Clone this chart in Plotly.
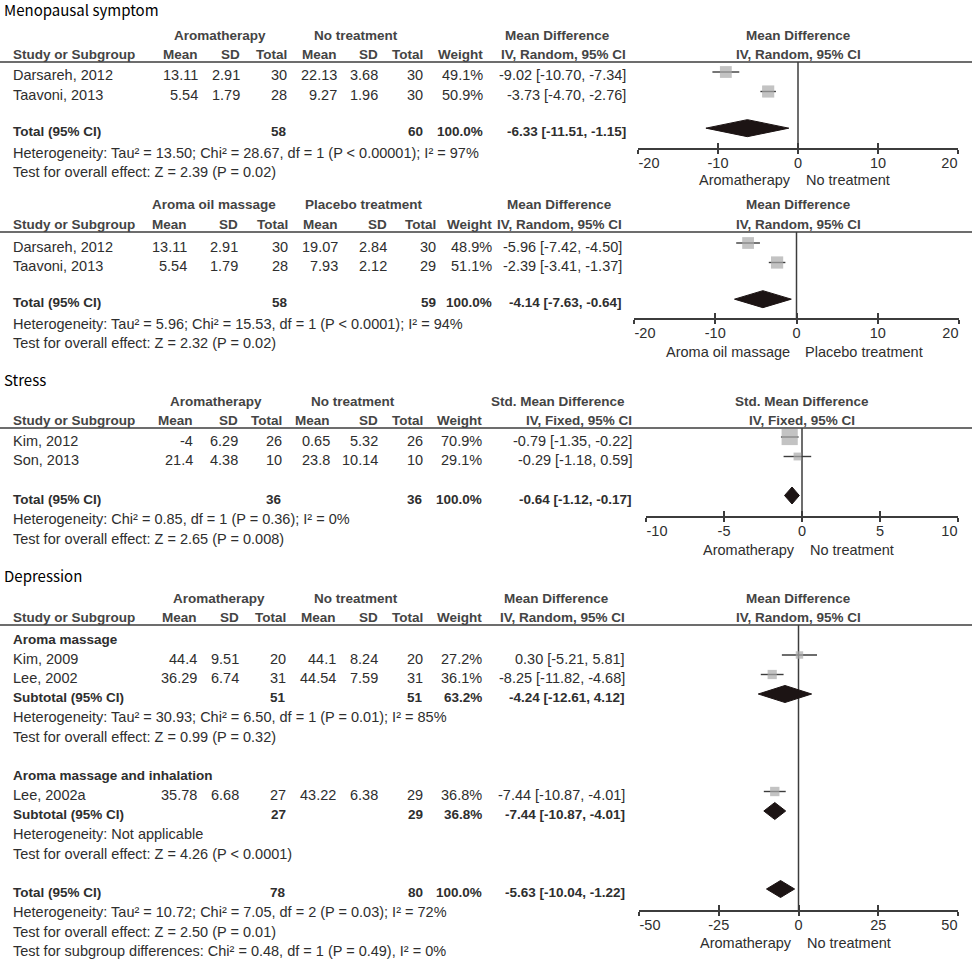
import plotly.graph_objects as go

# ======================= DATA =======================
# --- Menopausal symptom: Aromatherapy vs No treatment ---
meno_study = ["Darsareh, 2012", "Taavoni, 2013"]
meno_exp_mean = [13.11, 5.54]
meno_exp_sd = [2.91, 1.79]
meno_exp_n = [30, 28]
meno_ctl_mean = [22.13, 9.27]
meno_ctl_sd = [3.68, 1.96]
meno_ctl_n = [30, 30]
meno_weight = [49.1, 50.9]
meno_est = [-9.02, -3.73]
meno_lo = [-10.70, -4.70]
meno_hi = [-7.34, -2.76]
meno_total_n = [58, 60]
meno_total_ci = [-6.33, -11.51, -1.15]
meno_het = "Heterogeneity: Tau² = 13.50; Chi² = 28.67, df = 1 (P &lt; 0.00001); I² = 97%"
meno_test = "Test for overall effect: Z = 2.39 (P = 0.02)"

# --- Menopausal symptom: Aroma oil massage vs Placebo treatment ---
mass_study = ["Darsareh, 2012", "Taavoni, 2013"]
mass_exp_mean = [13.11, 5.54]
mass_exp_sd = [2.91, 1.79]
mass_exp_n = [30, 28]
mass_ctl_mean = [19.07, 7.93]
mass_ctl_sd = [2.84, 2.12]
mass_ctl_n = [30, 29]
mass_weight = [48.9, 51.1]
mass_est = [-5.96, -2.39]
mass_lo = [-7.42, -3.41]
mass_hi = [-4.50, -1.37]
mass_total_n = [58, 59]
mass_total_ci = [-4.14, -7.63, -0.64]
mass_het = "Heterogeneity: Tau² = 5.96; Chi² = 15.53, df = 1 (P &lt; 0.0001); I² = 94%"
mass_test = "Test for overall effect: Z = 2.32 (P = 0.02)"

# --- Stress: Aromatherapy vs No treatment (SMD) ---
str_study = ["Kim, 2012", "Son, 2013"]
str_exp_mean = [-4, 21.4]
str_exp_sd = [6.29, 4.38]
str_exp_n = [26, 10]
str_ctl_mean = [0.65, 23.8]
str_ctl_sd = [5.32, 10.14]
str_ctl_n = [26, 10]
str_weight = [70.9, 29.1]
str_est = [-0.79, -0.29]
str_lo = [-1.35, -1.18]
str_hi = [-0.22, 0.59]
str_total_n = [36, 36]
str_total_ci = [-0.64, -1.12, -0.17]
str_het = "Heterogeneity: Chi² = 0.85, df = 1 (P = 0.36); I² = 0%"
str_test = "Test for overall effect: Z = 2.65 (P = 0.008)"

# --- Depression: Aromatherapy vs No treatment ---
depA_title = "Aroma massage"
depA_study = ["Kim, 2009", "Lee, 2002"]
depA_exp_mean = [44.4, 36.29]
depA_exp_sd = [9.51, 6.74]
depA_exp_n = [20, 31]
depA_ctl_mean = [44.1, 44.54]
depA_ctl_sd = [8.24, 7.59]
depA_ctl_n = [20, 31]
depA_weight = [27.2, 36.1]
depA_est = [0.30, -8.25]
depA_lo = [-5.21, -11.82]
depA_hi = [5.81, -4.68]
depA_sub_n = [51, 51]
depA_sub_weight = 63.2
depA_sub_ci = [-4.24, -12.61, 4.12]
depA_het = "Heterogeneity: Tau² = 30.93; Chi² = 6.50, df = 1 (P = 0.01); I² = 85%"
depA_test = "Test for overall effect: Z = 0.99 (P = 0.32)"

depB_title = "Aroma massage and inhalation"
depB_study = ["Lee, 2002a"]
depB_exp_mean = [35.78]
depB_exp_sd = [6.68]
depB_exp_n = [27]
depB_ctl_mean = [43.22]
depB_ctl_sd = [6.38]
depB_ctl_n = [29]
depB_weight = [36.8]
depB_est = [-7.44]
depB_lo = [-10.87]
depB_hi = [-4.01]
depB_sub_n = [27, 29]
depB_sub_weight = 36.8
depB_sub_ci = [-7.44, -10.87, -4.01]
depB_het = "Heterogeneity: Not applicable"
depB_test = "Test for overall effect: Z = 4.26 (P &lt; 0.0001)"

dep_total_n = [78, 80]
dep_total_ci = [-5.63, -10.04, -1.22]
dep_het = "Heterogeneity: Tau² = 10.72; Chi² = 7.05, df = 2 (P = 0.03); I² = 72%"
dep_test = "Test for overall effect: Z = 2.50 (P = 0.01)"
dep_subgroup = "Test for subgroup differences: Chi² = 0.48, df = 1 (P = 0.49), I² = 0%"

# ======================= STYLE / LAYOUT =======================
W, H = 972, 960
R = 19.5          # row height in px
TXT_DY = 3.5      # text sits slightly below the marker centre
TABLE_FONT = "Liberation Sans, Arial, sans-serif"
TITLE_FONT = "Noto Sans CJK KR, Noto Sans, sans-serif"
TXT = "#2e2e2e"
HDR = "#444444"
SQ = "#a9a9a9"
DIA = "#1c1414"
LINE = "#3c3c3c"
FS = 14.5
FSB = 13.5
DIA_HALF = 8.5 / R

fig = go.Figure()
annotations = []
shapes = []
layout_axes = {}


def fx(px):
    return px / W


def fy(py):
    return 1 - py / H


def axid(letter, n):
    return letter if n == 1 else f"{letter}{n}"


def text(s, x, y, anchor="left", bold=False, size=None, color=TXT, family=TABLE_FONT):
    if size is None:
        size = FSB if bold else FS
    annotations.append(dict(
        text=f"<b>{s}</b>" if bold else s, x=fx(x), y=fy(y), xref="paper", yref="paper",
        xanchor=anchor, yanchor="middle", showarrow=False, borderpad=0,
        font=dict(family=family, size=size, color=color)))


def num(v):
    return f"{v:g}"


def ci_txt(e, lo, hi):
    return f"{e:.2f} [{lo:.2f}, {hi:.2f}]"


def ty(spec, row):
    return spec["base"] + row * R + TXT_DY


def frame(k, spec):
    c = spec["cols"]
    if spec.get("title"):
        text(spec["title"], 3, spec["title_y"], family=TITLE_FONT, size=15, color="#000000")
    gy = spec["line_y"] - 27
    hy = spec["line_y"] - 8
    text(spec["groups"][0], c["g1"], gy, "center", bold=True, color=HDR)
    text(spec["groups"][1], c["g2"], gy, "center", bold=True, color=HDR)
    text(spec["measure"], c["md"], gy, "center", bold=True, color=HDR)
    text(spec["measure"], c["fc"], gy, "center", bold=True, color=HDR)
    text("Study or Subgroup", 12, hy, bold=True, color=HDR)
    for key, lab in [("mean1", "Mean"), ("sd1", "SD"), ("tot1", "Total"), ("mean2", "Mean"),
                     ("sd2", "SD"), ("tot2", "Total"), ("w", "Weight"), ("ci", spec["method"])]:
        text(lab, c[key], hy, "right", bold=True, color=HDR)
    text(spec["method"], c["fc"], hy, "center", bold=True, color=HDR)
    ly = fy(spec["line_y"])
    shapes.append(dict(type="line", xref="paper", yref="paper", x0=0, x1=1, y0=ly, y1=ly,
                       line=dict(color=LINE, width=1.3)))

    # ---- forest axes ----
    xr = spec["xrange"]
    tv = spec["ticks"]
    dom = [fx(spec["fx0"]), fx(spec["fx1"])]
    yname = axid("y", k)
    layout_axes["yaxis" + ("" if k == 1 else str(k))] = dict(
        domain=[fy(spec["axis_y"]), fy(spec["line_y"])],
        range=[(spec["axis_y"] - spec["base"]) / R, (spec["line_y"] - spec["base"]) / R],
        visible=False, anchor=axid("x", k), fixedrange=True)
    tfont = dict(family=TABLE_FONT, size=FS, color=TXT)
    layout_axes["xaxis" + ("" if k == 1 else str(k))] = dict(
        domain=dom, range=xr, anchor=yname, showline=True, linecolor=LINE, linewidth=1.5,
        ticks="outside", ticklen=4, tickwidth=1.5, tickcolor=LINE, tickvals=tv,
        ticktext=[""] + [num(t) for t in tv[1:-1]] + [""], tickfont=tfont,
        ticklabelstandoff=-3, showgrid=False, zeroline=False, fixedrange=True)
    layout_axes[f"xaxis{4 + k}"] = dict(
        domain=dom, range=xr, overlaying=axid("x", k), anchor=yname, ticks="inside", ticklen=5,
        tickwidth=1.5, tickcolor=LINE, tickvals=tv, showticklabels=False,
        showgrid=False, zeroline=False, showline=False, fixedrange=True)
    layout_axes[f"xaxis{8 + k}"] = dict(
        domain=dom, range=xr, overlaying=axid("x", k), anchor=yname, ticks="outside", ticklen=9,
        tickcolor="rgba(0,0,0,0)", tickvals=[tv[0]], ticktext=[num(tv[0])], tickfont=tfont,
        ticklabelposition="outside right", ticklabelstandoff=2, showgrid=False,
        zeroline=False, showline=False, fixedrange=True)
    layout_axes[f"xaxis{12 + k}"] = dict(
        domain=dom, range=xr, overlaying=axid("x", k), anchor=yname, ticks="outside", ticklen=9,
        tickcolor="rgba(0,0,0,0)", tickvals=[tv[-1]], ticktext=[num(tv[-1])], tickfont=tfont,
        ticklabelposition="outside left", ticklabelstandoff=2, showgrid=False,
        zeroline=False, showline=False, fixedrange=True)
    for extra in (4 + k, 8 + k, 12 + k):
        fig.add_trace(go.Scatter(x=[], y=[], xaxis=f"x{extra}", yaxis=yname,
                                 showlegend=False, hoverinfo="skip"))
    # zero (no-effect) line
    shapes.append(dict(type="line", xref=axid("x", k), yref=f"{yname} domain", x0=0, x1=0,
                       y0=0, y1=1, line=dict(color=LINE, width=1.5), layer="below"))
    # captions under axis
    for lab, anchor, shift in [(spec["captions"][0], "right", -6), (spec["captions"][1], "left", 7)]:
        annotations.append(dict(text=lab, x=0, xref=axid("x", k), y=fy(spec["caption_y"]),
                                yref="paper", xanchor=anchor, yanchor="middle", xshift=shift,
                                showarrow=False, borderpad=0,
                                font=dict(family=TABLE_FONT, size=FS, color=TXT)))


def studies(k, spec, rows, names, em, esd, en, cm, csd, cn, w, est, lo, hi):
    c = spec["cols"]
    for i, r in enumerate(rows):
        y = ty(spec, r)
        text(names[i], 12, y)
        text(num(em[i]), c["mean1"], y, "right")
        text(num(esd[i]), c["sd1"], y, "right")
        text(num(en[i]), c["tot1"], y, "right")
        text(num(cm[i]), c["mean2"], y, "right")
        text(num(csd[i]), c["sd2"], y, "right")
        text(num(cn[i]), c["tot2"], y, "right")
        text(f"{w[i]:.1f}%", c["w"], y, "right")
        text(ci_txt(est[i], lo[i], hi[i]), c["ci"], y, "right")
    xs, ys = [], []
    for i, r in enumerate(rows):
        xs += [lo[i], hi[i], None]
        ys += [r, r, None]
    fig.add_trace(go.Scatter(x=xs, y=ys, mode="lines", line=dict(color=LINE, width=1.4),
                             xaxis=axid("x", k), yaxis=axid("y", k), showlegend=False,
                             hoverinfo="skip", cliponaxis=False))
    fig.add_trace(go.Scatter(x=est, y=rows, mode="markers",
                             marker=dict(symbol="square", color=SQ, size=[2 + 0.2 * v for v in w],
                                         line=dict(width=0)),
                             xaxis=axid("x", k), yaxis=axid("y", k), showlegend=False,
                             hoverinfo="skip", cliponaxis=False))


def pooled(k, spec, row, label, n, wtxt, ci):
    c = spec["cols"]
    y = ty(spec, row)
    text(label, 12, y, bold=True)
    text(num(n[0]), c["tot1"], y, "right", bold=True)
    text(num(n[1]), c["tot2"], y, "right", bold=True)
    text(wtxt, c["w"], y, "right", bold=True)
    text(ci_txt(*ci), c["ci"], y, "right", bold=True)
    e, lo, hi = ci
    fig.add_trace(go.Scatter(x=[lo, e, hi, e, lo], y=[row, row - DIA_HALF, row, row + DIA_HALF, row],
                             mode="lines", fill="toself", fillcolor=DIA, line=dict(color=DIA, width=1),
                             xaxis=axid("x", k), yaxis=axid("y", k), showlegend=False,
                             hoverinfo="skip"))


def note(spec, row, s, bold=False):
    text(s, 12, ty(spec, row), bold=bold)


# ---------------- Panel 1 ----------------
p1 = dict(title="Menopausal symptom", title_y=10, line_y=62, axis_y=148, base=72,
          fx0=638, fx1=958, xrange=[-20, 20], ticks=[-20, -10, 0, 10, 20], caption_y=180,
          captions=("Aromatherapy", "No treatment"), groups=("Aromatherapy", "No treatment"),
          measure="Mean Difference", method="IV, Random, 95% CI",
          cols=dict(mean1=199, sd1=241, tot1=288, mean2=338, sd2=379, tot2=424, w=484, ci=627,
                    g1=220, g2=356, md=557, fc=798))
frame(1, p1)
studies(1, p1, [0, 1], meno_study, meno_exp_mean, meno_exp_sd, meno_exp_n, meno_ctl_mean,
        meno_ctl_sd, meno_ctl_n, meno_weight, meno_est, meno_lo, meno_hi)
pooled(1, p1, 2.88, "Total (95% CI)", meno_total_n, "100.0%", meno_total_ci)
note(p1, 3.95, meno_het)
note(p1, 4.95, meno_test)

# ---------------- Panel 2 ----------------
p2 = dict(title=None, line_y=232, axis_y=318, base=243,
          fx0=634, fx1=959, xrange=[-20, 20], ticks=[-20, -10, 0, 10, 20], caption_y=352,
          captions=("Aroma oil massage", "Placebo treatment"),
          groups=("Aroma oil massage", "Placebo treatment"),
          measure="Mean Difference", method="IV, Random, 95% CI",
          cols=dict(mean1=188, sd1=239, tot1=289, mean2=339, sd2=388, tot2=437, w=493, ci=623,
                    g1=214, g2=364, md=559, fc=798))
frame(2, p2)
studies(2, p2, [0, 1], mass_study, mass_exp_mean, mass_exp_sd, mass_exp_n, mass_ctl_mean,
        mass_ctl_sd, mass_ctl_n, mass_weight, mass_est, mass_lo, mass_hi)
pooled(2, p2, 2.88, "Total (95% CI)", mass_total_n, "100.0%", mass_total_ci)
note(p2, 3.95, mass_het)
note(p2, 4.95, mass_test)

# ---------------- Panel 3 ----------------
p3 = dict(title="Stress", title_y=379, line_y=428, axis_y=516, base=437,
          fx0=646, fx1=958, xrange=[-10, 10], ticks=[-10, -5, 0, 5, 10], caption_y=550,
          captions=("Aromatherapy", "No treatment"), groups=("Aromatherapy", "No treatment"),
          measure="Std. Mean Difference", method="IV, Fixed, 95% CI",
          cols=dict(mean1=194, sd1=239, tot1=283, mean2=331, sd2=379, tot2=424, w=483, ci=633,
                    g1=216, g2=353, md=558, fc=802))
frame(3, p3)
studies(3, p3, [0, 1], str_study, str_exp_mean, str_exp_sd, str_exp_n, str_ctl_mean,
        str_ctl_sd, str_ctl_n, str_weight, str_est, str_lo, str_hi)
pooled(3, p3, 3.0, "Total (95% CI)", str_total_n, "100.0%", str_total_ci)
note(p3, 4.05, str_het)
note(p3, 5.05, str_test)

# ---------------- Panel 4 ----------------
p4 = dict(title="Depression", title_y=575, line_y=625, axis_y=910, base=635.5,
          fx0=639, fx1=958, xrange=[-50, 50], ticks=[-50, -25, 0, 25, 50], caption_y=943,
          captions=("Aromatherapy", "No treatment"), groups=("Aromatherapy", "No treatment"),
          measure="Mean Difference", method="IV, Random, 95% CI",
          cols=dict(mean1=198, sd1=240, tot1=287, mean2=337, sd2=379, tot2=424, w=483, ci=626,
                    g1=219, g2=356, md=556, fc=798))
frame(4, p4)
note(p4, 0, depA_title, bold=True)
studies(4, p4, [1, 2], depA_study, depA_exp_mean, depA_exp_sd, depA_exp_n, depA_ctl_mean,
        depA_ctl_sd, depA_ctl_n, depA_weight, depA_est, depA_lo, depA_hi)
pooled(4, p4, 3, "Subtotal (95% CI)", depA_sub_n, f"{depA_sub_weight:.1f}%", depA_sub_ci)
note(p4, 4, depA_het)
note(p4, 5, depA_test)
note(p4, 7, depB_title, bold=True)
studies(4, p4, [8], depB_study, depB_exp_mean, depB_exp_sd, depB_exp_n, depB_ctl_mean,
        depB_ctl_sd, depB_ctl_n, depB_weight, depB_est, depB_lo, depB_hi)
pooled(4, p4, 9, "Subtotal (95% CI)", depB_sub_n, f"{depB_sub_weight:.1f}%", depB_sub_ci)
note(p4, 10, depB_het)
note(p4, 11, depB_test)
pooled(4, p4, 13, "Total (95% CI)", dep_total_n, "100.0%", dep_total_ci)
note(p4, 14, dep_het)
note(p4, 15, dep_test)
note(p4, 16, dep_subgroup)

fig.update_layout(
    width=W, height=H, margin=dict(l=0, r=0, t=0, b=0),
    paper_bgcolor="white", plot_bgcolor="white", showlegend=False, hovermode=False,
    annotations=annotations, shapes=shapes, **layout_axes)

fig.write_html("out.html", config={"displayModeBar": False},
               post_script="document.body.style.margin='0px';document.body.style.overflow='hidden';")
